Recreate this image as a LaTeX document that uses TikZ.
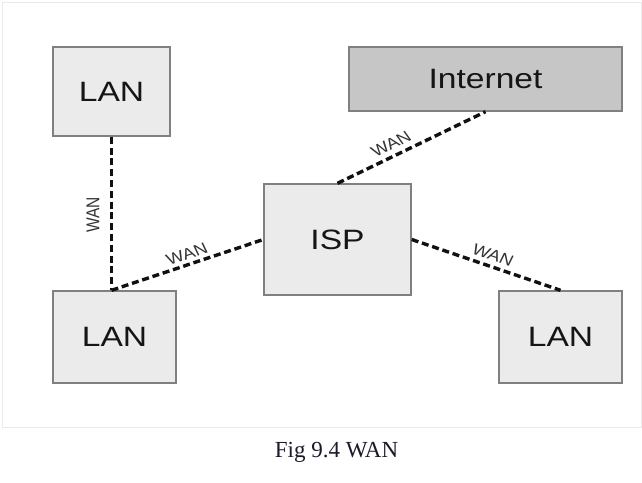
\documentclass[tikz,border=0pt]{standalone}
\usepackage{fontspec}
\usepackage{graphicx}
\setmainfont{Liberation Serif}
\newfontfamily\arialf{Liberation Sans}
\newcommand\hs[1]{\scalebox{1.2}[1]{#1}}
\definecolor{boxfill}{HTML}{EBEBEB}
\definecolor{boxline}{HTML}{808080}
\definecolor{netfill}{HTML}{C6C6C6}
\definecolor{linec}{HTML}{111111}
\definecolor{textc}{HTML}{151515}
\definecolor{labelc}{HTML}{333333}
\definecolor{framec}{HTML}{EBEBEB}
\definecolor{captc}{HTML}{1A1A2A}
\begin{document}
\begin{tikzpicture}[x=1pt,y=-1pt,
  box/.style={draw=boxline, fill=boxfill, line width=1.4pt, inner sep=0pt,
    font=\arialf\fontsize{28}{30}\selectfont, text=textc},
  wan/.style={draw=linec, line width=3.4pt, dash pattern=on 7pt off 3.8pt},
  wanlabel/.style={font=\arialf\fontsize{15.5}{17}\selectfont, text=labelc,
    inner sep=0pt, transform shape}]
\useasboundingbox (0,0) rectangle (642,482);
\fill[white] (0,0) rectangle (642,482);
\draw[framec, line width=1pt] (2,2) rectangle (641,427);

\node[box, minimum width=117pt, minimum height=89pt] (lanA) at (111.5,91.5) {\hs{LAN}};
\node[box, fill=netfill, minimum width=273pt, minimum height=64pt] (net) at (485.5,79) {\hs{Internet}};
\node[box, minimum width=147pt, minimum height=111pt] (isp) at (337.5,239.5) {\hs{ISP}};
\node[box, minimum width=123pt, minimum height=92pt] (lanB) at (114.5,337) {\hs{LAN}};
\node[box, minimum width=123pt, minimum height=92pt] (lanC) at (560.5,337) {\hs{LAN}};

\coordinate (bjoin) at (lanA.south |- lanB.north);
\draw[wan] (lanA.south) -- (bjoin);
\draw[wan] (bjoin) -- (isp.west);
\draw[wan] (isp.north) -- (net.south);
\draw[wan] (isp.east) -- (lanC.north);

\begin{scope}[xscale=1.2]
\node[wanlabel, rotate=90] (w1) at (77.5,215) {WAN};
\node[wanlabel, rotate=21.5] (w2) at (155.8,254) {WAN};
\node[wanlabel, rotate=30.8] (w3) at (325.8,144) {WAN};
\node[wanlabel, rotate=-22.3] (w4) at (410.8,255) {WAN};
\end{scope}

\node[font=\fontsize{23}{25}\selectfont, text=captc, anchor=base, inner sep=0pt] (cap) at (336.5,457) {Fig 9.4 WAN};
\end{tikzpicture}
\end{document}
